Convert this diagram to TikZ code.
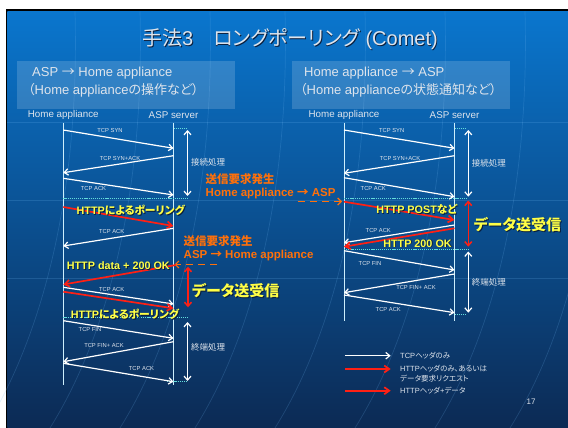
\documentclass[tikz,border=0pt]{standalone}
\usepackage{fontspec}
\setmainfont{Liberation Sans}
\newfontfamily\jp[RawFeature=+palt]{Noto Sans CJK JP}
\usetikzlibrary{arrows.meta}
\definecolor{bgtop}{RGB}{10,118,206}
\definecolor{bgmid}{RGB}{12,86,164}
\definecolor{bgbot}{RGB}{12,42,84}
\definecolor{msgred}{RGB}{255,32,20}
\definecolor{orng}{RGB}{255,112,10}
\definecolor{ylw}{RGB}{255,255,70}
\definecolor{cyandot}{RGB}{100,220,220}
\definecolor{lifec}{RGB}{205,238,252}
\definecolor{txtgray}{RGB}{222,228,236}
\definecolor{shadowc}{RGB}{10,30,60}
\definecolor{globec}{RGB}{110,180,240}
\newcommand\shadowed[4]{%
  \node[#3, text=shadowc, xshift=0.9pt, yshift=-0.9pt] (#1-sh) at (#2) {#4};
  \node[#3] (#1) at (#2) {#4};}
\begin{document}
\begin{tikzpicture}[x=1pt,y=-1pt,
  barb/.style={-{Straight Barb[length=4pt,width=6.5pt]}},
  tcpmsg/.style={draw=white, line width=1.2pt, barb},
  httpmsg/.style={draw=msgred, line width=1.7pt, -{Straight Barb[length=5pt,width=7pt]}},
  lifeline/.style={draw=lifec, line width=0.9pt},
  sepline/.style={draw=cyandot, line width=0.8pt, dash pattern=on 1.2pt off 0.9pt},
  spanw/.style={draw=white, line width=1.2pt, {Straight Barb[length=4pt,width=7pt]}-{Straight Barb[length=4pt,width=7pt]}},
  spanr/.style={draw=msgred, line width=1.5pt, {Straight Barb[length=4pt,width=7pt]}-{Straight Barb[length=4pt,width=7pt]}},
  tcplbl/.style={inner sep=0pt, text=txtgray, font=\fontsize{5.8}{6}\selectfont},
  phaselbl/.style={inner sep=0pt, anchor=west, text=txtgray, font=\jp\fontsize{8.5}{9}\selectfont},
  ylwlbl/.style={inner sep=0pt, text=ylw, font=\bfseries\fontsize{10.8}{12}\selectfont},
  biglbl/.style={inner sep=0pt, text=ylw, font=\bfseries\jp\fontsize{15}{16}\selectfont},
  orlbl/.style={inner sep=0pt, anchor=west, text=orng, font=\bfseries\fontsize{11.5}{13}\selectfont},
  headlbl/.style={inner sep=0pt, text=txtgray, font=\fontsize{9.8}{10}\selectfont},
  boxlbl/.style={inner sep=0pt, anchor=west, text=txtgray, font=\fontsize{13}{14}\selectfont},
  leglbl/.style={inner sep=0pt, anchor=west, text=txtgray, font=\fontsize{7.5}{8}\selectfont},
  globe/.style={draw=globec, line width=0.7pt, opacity=0.2}
]
\useasboundingbox (0,0) rectangle (568,428);
\fill[white] (0,0) rectangle (568,428);
\fill[black] (5.5,9.3) rectangle (568,428);
\shade[top color=bgtop, middle color=bgmid, bottom color=bgbot] (7.3,11.5) rectangle (568,428);
% globe lines
\draw[globe] (7.3,122) -- (568,122);
\draw[globe] (7.3,200) -- (568,200);
\draw[globe] (7.3,278) -- (568,278);
\foreach \xs in {30,95,165,240,320,400,480,555}{
  \draw[globe] (\xs+45,11.5) .. controls (\xs+50,200) and (\xs+10,340) .. (\xs-45,428);
}
% title
\shadowed{title}{290,39}{inner sep=0pt, text=txtgray, font=\fontsize{20}{22}\selectfont}{{\jp 手法}3{\jp 　ロングポーリング} (Comet)}
% header boxes
\fill[white, opacity=0.16] (17,61) rectangle (235,109);
\fill[white, opacity=0.16] (292,61) rectangle (510,109);
\node[boxlbl] (lb1) at (32,73.5) {ASP {\jp →} Home appliance};
\node[boxlbl] (lb2) at (28,90) {{\jp （}Home appliance{\jp の操作など）}};
\node[boxlbl] (rb1) at (304,73.5) {Home appliance {\jp →} ASP};
\node[boxlbl] (rb2) at (300,90) {{\jp （}Home appliance{\jp の状態通知など）}};
% lifeline heads
\node[headlbl] (lha) at (63.3,115) {Home appliance};
\node[headlbl] (lasp) at (173.5,115) {ASP server};
\node[headlbl] (rha) at (344,115) {Home appliance};
\node[headlbl] (rasp) at (454.5,115) {ASP server};
% ---------------- left diagram ----------------
\coordinate (LHt) at (63.3,122.7); \coordinate (LHb) at (63.3,385);
\coordinate (LSt) at (173.5,122.7); \coordinate (LSb) at (173.5,385);
\draw[lifeline] (LHt) -- (LHb);
\draw[lifeline] (LSt) -- (LSb);
% separators
\coordinate (ls0a) at (173.5,128.3); \coordinate (ls0b) at (187.5,128.3);
\coordinate (ls1a) at (63.3,198.3); \coordinate (ls1b) at (187.5,198.3);
\coordinate (ls2a) at (63.3,317); \coordinate (ls2b) at (187.5,317);
\coordinate (ls3a) at (167,381.7); \coordinate (ls3b) at (187.5,381.7);
\draw[sepline] (ls0a) -- (ls0b);
\draw[sepline] (ls1a) -- (ls1b);
\draw[sepline] (ls2a) -- (ls2b);
\draw[sepline] (ls3a) -- (ls3b);
% connection setup
\coordinate (l1a) at (63.3,130); \coordinate (l1b) at (173.5,148.3);
\coordinate (l2a) at (173.5,155.7); \coordinate (l2b) at (63.3,172.7);
\coordinate (l3a) at (63.3,178.3); \coordinate (l3b) at (173.5,195);
\draw[tcpmsg] (l1a) -- (l1b);
\draw[tcpmsg] (l2a) -- (l2b);
\draw[tcpmsg] (l3a) -- (l3b);
\node[tcplbl] (lt1) at (110,130.5) {TCP SYN};
\node[tcplbl] (lt2) at (120,158.3) {TCP SYN+ACK};
\node[tcplbl] (lt3) at (93.5,189) {TCP ACK};
\coordinate (lc1a) at (187.5,130); \coordinate (lc1b) at (187.5,196);
\draw[spanw] (lc1a) -- (lc1b);
\node[phaselbl] (lp1) at (191,162.5) {接続処理};
% polling
\coordinate (l4a) at (63.3,207) ; \coordinate (l4b) at (173.5,226);
\draw[httpmsg] (l4a) -- (l4b);
\shadowed{ly1}{130.8,210}{ylwlbl}{HTTP{\jp によるポーリング}}
\coordinate (l5a) at (173.5,228.3); \coordinate (l5b) at (63.3,246);
\draw[tcpmsg] (l5a) -- (l5b);
\node[tcplbl] (lt5) at (111.7,231.7) {TCP ACK};
% send request event (left)
\node[orlbl] (lo1) at (183.5,241.5) {\jp 送信要求発生};
\node[orlbl] (lo2) at (183.5,256) {ASP {\jp →} Home appliance};
\coordinate (lev) at (216.5,264.5); \coordinate (levt) at (174.5,264.5);
\draw[draw=orng, line width=1.2pt, dash pattern=on 7pt off 5pt, -{Straight Barb[length=3.5pt,width=7pt]}] (lev) -- (levt);
\coordinate (l7a) at (176,265); \coordinate (l7b) at (63.3,284.5);
\draw[httpmsg] (l7a) -- (l7b);
\shadowed{ly2}{118.3,266}{ylwlbl}{HTTP data + 200 OK}
\coordinate (l8a) at (63.3,287.3); \coordinate (l8b) at (173.5,304);
\draw[tcpmsg] (l8a) -- (l8b);
\node[tcplbl] (lt8) at (111.7,289.3) {TCP ACK};
\coordinate (l9a) at (63.3,291.7); \coordinate (l9b) at (173.5,308.3);
\draw[httpmsg] (l9a) -- (l9b);
\shadowed{ly3}{125,314.3}{ylwlbl}{HTTP{\jp によるポーリング}}
\coordinate (lc2a) at (188,266.7); \coordinate (lc2b) at (188,307.3);
\draw[spanr] (lc2a) -- (lc2b);
\shadowed{ly4}{235.8,291}{biglbl}{データ送受信}
% teardown
\coordinate (l10a) at (63.3,320.7); \coordinate (l10b) at (173.5,338.3);
\coordinate (l11a) at (173.5,341.7); \coordinate (l11b) at (63.3,361.7);
\coordinate (l12a) at (63.3,363.3); \coordinate (l12b) at (173.5,381.7);
\draw[tcpmsg] (l10a) -- (l10b);
\draw[tcpmsg] (l11a) -- (l11b);
\draw[tcpmsg] (l12a) -- (l12b);
\node[tcplbl] (lt10) at (90,329.3) {TCP FIN};
\node[tcplbl] (lt11) at (104,346) {TCP FIN+ ACK};
\node[tcplbl] (lt12) at (141.5,368.3) {TCP ACK};
\coordinate (lc3a) at (187.5,322); \coordinate (lc3b) at (187.5,381);
\draw[spanw] (lc3a) -- (lc3b);
\node[phaselbl] (lp3) at (191,347.5) {終端処理};
% ---------------- right diagram ----------------
\coordinate (RHt) at (344,122.7); \coordinate (RHb) at (344,320.7);
\coordinate (RSt) at (454.5,122.7); \coordinate (RSb) at (454.5,320.7);
\draw[lifeline] (RHt) -- (RHb);
\draw[lifeline] (RSt) -- (RSb);
\coordinate (rs0a) at (454.5,128.3); \coordinate (rs0b) at (467,128.3);
\coordinate (rs1a) at (344,198.3); \coordinate (rs1b) at (467,198.3);
\coordinate (rs2a) at (344,249.3); \coordinate (rs2b) at (468.3,249.3);
\coordinate (rs3a) at (454.5,314.3); \coordinate (rs3b) at (467,314.3);
\draw[sepline] (rs0a) -- (rs0b);
\draw[sepline] (rs1a) -- (rs1b);
\draw[sepline] (rs2a) -- (rs2b);
\draw[sepline] (rs3a) -- (rs3b);
\coordinate (r1a) at (344,130); \coordinate (r1b) at (454.5,148.3);
\coordinate (r2a) at (454.5,155.7); \coordinate (r2b) at (344,173.3);
\coordinate (r3a) at (344,177.7); \coordinate (r3b) at (454.5,196.7);
\draw[tcpmsg] (r1a) -- (r1b);
\draw[tcpmsg] (r2a) -- (r2b);
\draw[tcpmsg] (r3a) -- (r3b);
\node[tcplbl] (rt1) at (391.7,130.5) {TCP SYN};
\node[tcplbl] (rt2) at (400,158.3) {TCP SYN+ACK};
\node[tcplbl] (rt3) at (373.3,189) {TCP ACK};
\coordinate (rc1a) at (468.3,130); \coordinate (rc1b) at (468.3,196.7);
\draw[spanw] (rc1a) -- (rc1b);
\node[phaselbl] (rp1) at (471.7,163.3) {接続処理};
% send request event (right)
\node[orlbl] (ro1) at (205.5,178.8) {\jp 送信要求発生};
\node[orlbl] (ro2) at (205.5,193.5) {Home appliance {\jp →} ASP};
\coordinate (rev) at (298,201.5); \coordinate (revt) at (342,201.5);
\draw[draw=orng, line width=1.2pt, dash pattern=on 7pt off 5pt, -{Straight Barb[length=3.5pt,width=7pt]}] (rev) -- (revt);
\coordinate (r4a) at (344,201.7); \coordinate (r4b) at (454.5,220);
\draw[httpmsg] (r4a) -- (r4b);
\shadowed{ry1}{416.7,209.3}{ylwlbl}{HTTP POST{\jp など}}
\coordinate (r5a) at (454.5,225); \coordinate (r5b) at (344,242.7);
\draw[tcpmsg] (r5a) -- (r5b);
\node[tcplbl] (rt5) at (378.3,230.7) {TCP ACK};
\coordinate (r6a) at (454.5,228.3); \coordinate (r6b) at (344,246.7);
\draw[httpmsg] (r6a) -- (r6b);
\shadowed{ry2}{417.5,243.3}{ylwlbl}{HTTP 200 OK}
\coordinate (rc2a) at (468.3,200.5); \coordinate (rc2b) at (468.3,246.7);
\draw[spanr] (rc2a) -- (rc2b);
\shadowed{ry3}{517.5,225}{biglbl}{データ送受信}
\coordinate (r7a) at (344,250.7); \coordinate (r7b) at (454.5,270);
\coordinate (r8a) at (454.5,274); \coordinate (r8b) at (344,292.7);
\coordinate (r9a) at (344,295); \coordinate (r9b) at (454.5,312.7);
\draw[tcpmsg] (r7a) -- (r7b);
\draw[tcpmsg] (r8a) -- (r8b);
\draw[tcpmsg] (r9a) -- (r9b);
\node[tcplbl] (rt7) at (370,263.3) {TCP FIN};
\node[tcplbl] (rt8) at (416,287.3) {TCP FIN+ ACK};
\node[tcplbl] (rt9) at (388.3,309.3) {TCP ACK};
\coordinate (rc3a) at (468.3,251.5); \coordinate (rc3b) at (468.3,312.7);
\draw[spanw] (rc3a) -- (rc3b);
\node[phaselbl] (rp3) at (471.7,282.7) {終端処理};
% ---------------- legend ----------------
\coordinate (g1a) at (345,355.7); \coordinate (g1b) at (390.7,355.7);
\coordinate (g2a) at (345,369); \coordinate (g2b) at (390.7,369);
\coordinate (g3a) at (345,390.7); \coordinate (g3b) at (390.7,390.7);
\draw[tcpmsg] (g1a) -- (g1b);
\draw[httpmsg] (g2a) -- (g2b);
\draw[httpmsg] (g3a) -- (g3b);
\node[leglbl] (gl1) at (400,355.7) {TCP{\jp ヘッダのみ}};
\node[leglbl] (gl2) at (400,369) {HTTP{\jp ヘッダのみ、あるいは}};
\node[leglbl] (gl2b) at (400,378.5) {\jp データ要求リクエスト};
\node[leglbl] (gl3) at (400,390.7) {HTTP{\jp ヘッダ}+{\jp データ}};
\node[inner sep=0pt, text=txtgray, font=\fontsize{8}{9}\selectfont] (pg) at (531,401.7) {17};
\end{tikzpicture}
\end{document}
